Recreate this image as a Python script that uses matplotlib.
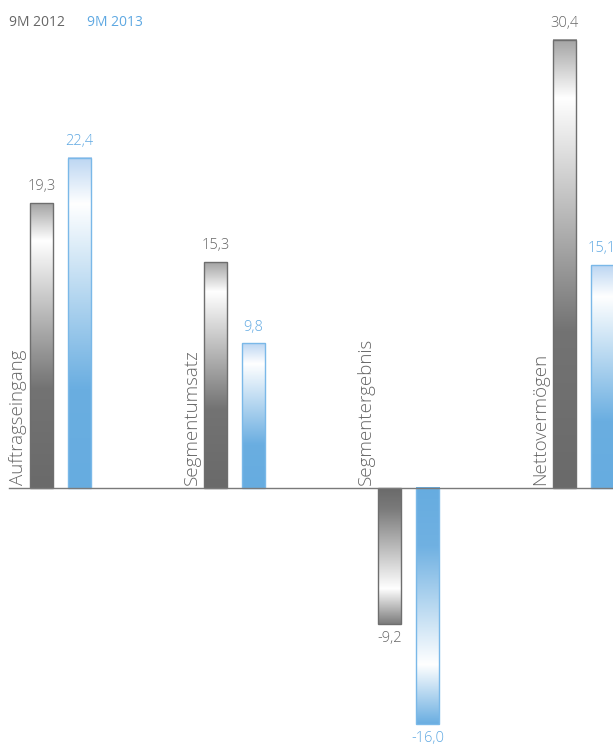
import numpy as np
import matplotlib
matplotlib.use("Agg")
import matplotlib.pyplot as plt
from matplotlib.colors import LinearSegmentedColormap

categories = ["Auftragseingang", "Segmentumsatz", "Segmentergebnis", "Nettovermögen"]
series_names = ["9M 2012", "9M 2013"]
values_2012 = [19.3, 15.3, -9.2, 30.4]
values_2013 = [22.4, 9.8, -16.0, 15.1]
labels_2012 = ["19,3", "15,3", "-9,2", "30,4"]
labels_2013 = ["22,4", "9,8", "-16,0", "15,1"]

plt.rcParams['font.family'] = ['Open Sans', 'DejaVu Sans']

W, H = 613, 747
fig = plt.figure(figsize=(W / 100, H / 100), dpi=100)
ax = fig.add_axes([0, 0, 1, 1])
ax.set_xlim(-0.3458, 3.172)
ax.set_ylim(-17.56, 33.08)
ax.axis('off')

gray_txt = '#666666'
blue_txt = '#5ea8e2'

cmap_gray_pos = LinearSegmentedColormap.from_list('gp', [(0, '#6a6a6a'), (0.35, '#737373'), (0.87, '#ffffff'), (1.0, '#a4a4a4')])
cmap_blue_pos = LinearSegmentedColormap.from_list('bp', [(0, '#66ace0'), (0.3, '#6aaee1'), (0.86, '#ffffff'), (1.0, '#bcd6f2')])
cmap_gray_neg = LinearSegmentedColormap.from_list('gn', [(0, '#6a6a6a'), (0.15, '#7a7a7a'), (0.74, '#ffffff'), (1.0, '#7c7c7c')])
cmap_blue_neg = LinearSegmentedColormap.from_list('bn', [(0, '#66ace0'), (0.25, '#70b1e2'), (0.75, '#ffffff'), (1.0, '#6aaee1')])

offset = 0.109
width = 0.132
grad = np.linspace(0, 1, 256).reshape(-1, 1)

def draw_bar(x, v, cmap, edge):
    x0, x1 = x - width / 2, x + width / 2
    if v >= 0:
        img = grad[::-1]  # top row = tip
        ext = [x0, x1, 0, v]
    else:
        img = grad  # top row = base
        ext = [x0, x1, v, 0]
    ax.imshow(img, cmap=cmap, extent=ext, aspect='auto', origin='upper',
              interpolation='bilinear', zorder=2)
    ax.bar(x, v, width=width, fill=False, edgecolor=edge, linewidth=1.0, zorder=3)

for i, cat in enumerate(categories):
    xg = i - offset
    xb = i + offset
    vg, vb = values_2012[i], values_2013[i]
    draw_bar(xg, vg, cmap_gray_pos if vg >= 0 else cmap_gray_neg, '#6e6e6e')
    draw_bar(xb, vb, cmap_blue_pos if vb >= 0 else cmap_blue_neg, '#7ab8e8')
    for x, v, lab, col in [(xg, vg, labels_2012[i], gray_txt),
                           (xb, vb, labels_2013[i], blue_txt)]:
        if v >= 0:
            ax.text(x, v + 0.6, lab, ha='center', va='bottom', fontsize=10.5,
                    fontweight='light', color=col, zorder=4)
        else:
            ax.text(x, v - 0.5, lab, ha='center', va='top', fontsize=10.5,
                    fontweight='light', color=col, zorder=4)
    ax.text(xg - 0.135, 0.2, cat, rotation=90, ha='center', va='bottom',
            fontsize=13.5, fontweight='light', color=gray_txt, zorder=4)

ax.axhline(0, xmin=9 / W, xmax=1, color='#7a7a7a', linewidth=1.0, zorder=5)

fig.text(9 / W, 1 - 22 / H, series_names[0], ha='left', va='center', fontsize=10,
         color=gray_txt)
fig.text(87 / W, 1 - 22 / H, series_names[1], ha='left', va='center', fontsize=10,
         color=blue_txt)

fig.savefig('out.png', dpi=100)
